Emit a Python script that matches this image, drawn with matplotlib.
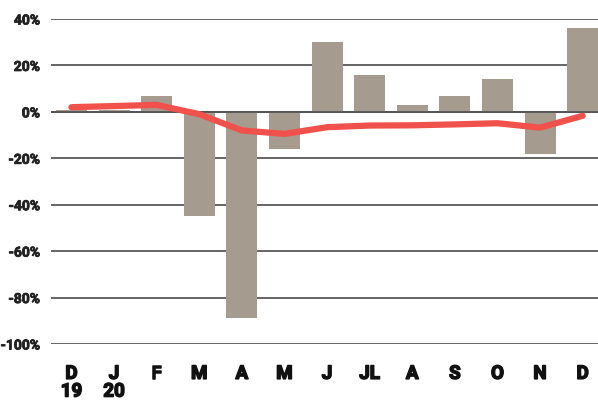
import numpy as np
import matplotlib.pyplot as plt
import matplotlib.patheffects as pe

# monthly change, Dec 2019 .. Dec 2020
months = ["D\n19", "J\n20", "F", "M", "A", "M", "J", "JL", "A", "S", "O", "N", "D"]
bar_vals = [1, 1, 7, -45, -89, -16, 30, 16, 3, 7, 14, -18, 36]
line_vals = [2, 2.5, 3, -1, -8, -9.5, -6.6, -5.9, -5.8, -5.4, -4.9, -6.8, -1.7]
yticks = [-100, -80, -60, -40, -20, 0, 20, 40]

BAR_COLOR = "#a59b8e"
LINE_COLOR = "#f0514b"
GRID_COLOR = "#4a4a4a"

fig = plt.figure(figsize=(5.98, 4.01), dpi=100)
ax = fig.add_axes([51 / 598, 57 / 401, 547 / 598, 325 / 401])

x = np.arange(len(months))
ax.bar(x, bar_vals, width=0.73, color=BAR_COLOR, zorder=2)
ax.axhline(0, color="#555555", lw=1.3, zorder=3)
ax.plot(x, line_vals, color=LINE_COLOR, lw=4.5, solid_capstyle="round",
        solid_joinstyle="round", zorder=4, clip_on=False)

ax.set_xlim(-0.48, 12.36)
ax.set_ylim(-100, 40)
ax.set_yticks(yticks)
ax.set_yticklabels([f"{v}%" for v in yticks])
ax.set_xticks(x)
ax.set_xticklabels(months)

ax.set_axisbelow(True)
ax.yaxis.grid(True, color=GRID_COLOR, lw=1.2)
for s in ax.spines.values():
    s.set_visible(False)

ax.tick_params(axis="y", length=0, pad=8, labelsize=10, labelcolor="#222222")
ax.tick_params(axis="x", length=0, pad=15, labelsize=13.5, labelcolor="#111111")
for lab in ax.get_yticklabels():
    lab.set_family(["Roboto", "DejaVu Sans"])
    lab.set_fontweight("bold")
    lab.set_path_effects([pe.withStroke(linewidth=0.6, foreground="#222222")])
for lab in ax.get_xticklabels():
    lab.set_family(["Roboto", "DejaVu Sans"])
    lab.set_fontweight("bold")
    lab.set_linespacing(0.98)
    lab.set_path_effects([pe.withStroke(linewidth=1.1, foreground="#111111")])

fig.savefig("out.png", dpi=100)
